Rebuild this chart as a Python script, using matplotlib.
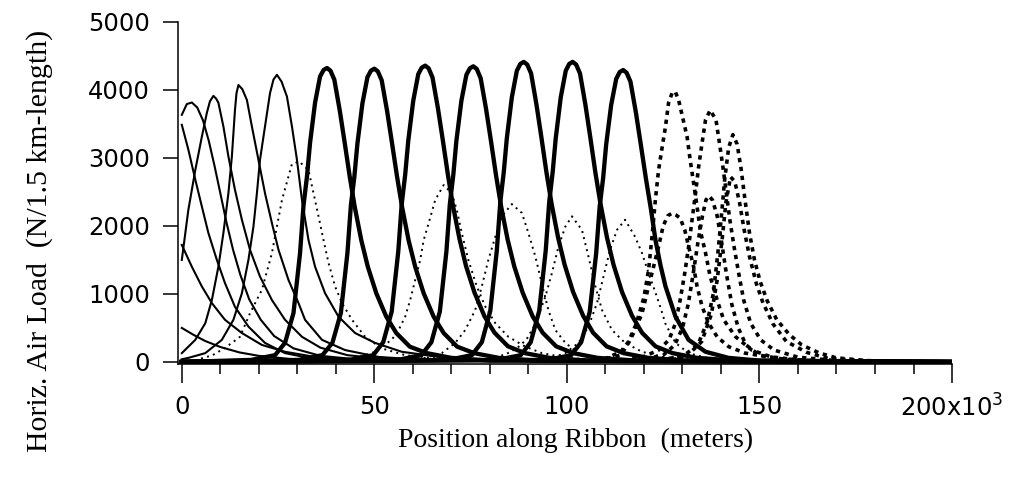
import matplotlib
matplotlib.use("Agg")
import matplotlib.pyplot as plt
from matplotlib.ticker import MultipleLocator, FixedLocator, FixedFormatter

# positions in units of 1000 m, loads in N per 1.5 km length

# thin solid curves
s1_x = [0, 1.3, 2.6, 4.0, 5.5, 7.0, 8.5, 10, 11.6, 13.3, 15.2, 17.5, 20.5, 24, 29, 36, 48]
s1_y = [3632, 3790, 3813, 3740, 3550, 3250, 2880, 2480, 2050, 1650, 1280, 920, 620, 380, 200, 90, 25]
s2_x = [0, 1.7, 3.5, 5.2, 6.9, 9.1, 11.2, 13.8, 17.3, 21.6, 26.8, 33, 42, 55]
s2_y = [3485, 3120, 2680, 2285, 1895, 1500, 1160, 810, 520, 280, 130, 60, 20, 5]
s3_x = [0, 1.7, 3.5, 5.2, 6.5, 7.3, 8.2, 8.9, 9.5, 10.8, 12.1, 13.8, 15.6, 17.7, 20.3, 23.4, 26.8,
        31.2, 36, 43, 55]
s3_y = [1500, 2235, 2820, 3310, 3660, 3830, 3910, 3870, 3810, 3460, 3020, 2530, 2090, 1650, 1255,
        910, 620, 370, 210, 100, 30]
s4_x = [0, 2.6, 5.2, 7.8, 11.2, 15.6, 20.8, 26.8, 35, 50]
s4_y = [1720, 1400, 1110, 865, 620, 425, 250, 150, 70, 20]
s5_x = [0, 3, 6, 10, 15, 20, 28, 40]
s5_y = [500, 400, 310, 220, 140, 90, 45, 15]
s6_x = [0, 3.5, 6.1, 7.8, 9.5, 10.8, 12.1, 13.0, 13.8, 14.2, 14.7, 15.7, 16.9, 18.2, 19.9, 21.6,
        23.4, 25.1, 27.7, 30.3, 32.0, 36.4, 42.4, 51, 65]
s6_y = [130, 325, 570, 910, 1400, 1895, 2480, 3020, 3700, 3950, 4070, 4010, 3850, 3460, 2970, 2480,
        2040, 1650, 1205, 865, 620, 325, 175, 75, 20]
s7_x = [0, 1.7, 6.1, 10.4, 13.4, 15.6, 17.3, 18.6, 19.5, 20.3, 21.6, 22.9, 23.8, 24.7, 25.9, 27.3,
        28.6, 29.9, 31.2, 32.9, 34.6, 37.2, 40.7, 45, 50.2, 57.1, 70]
s7_y = [40, 60, 130, 325, 620, 1010, 1500, 1990, 2480, 2970, 3460, 3950, 4150, 4220, 4120, 3900,
        3460, 2970, 2380, 1790, 1400, 1010, 665, 425, 280, 150, 50]

# thick solid curves
t1_x = [0, 18, 24.2, 26.8, 29.0, 30.7, 31.6, 32.5, 33.3, 34.6, 35.9, 36.8, 37.7, 38.6, 39.6, 41.0,
        42.3, 43.6, 44.9, 46.6, 48.3, 50.5, 53.1, 55.7, 59.2, 63.6, 70, 80, 200]
t1_y = [0, 30, 100, 280, 720, 1600, 2300, 2725, 3220, 3810, 4195, 4290, 4320, 4280, 4150, 3700,
        3220, 2725, 2280, 1790, 1400, 1010, 665, 425, 225, 130, 60, 20, 0]
t2_x = [0, 30.3, 36.5, 39.1, 41.3, 43.0, 43.9, 44.8, 45.6, 46.9, 48.2, 49.1, 50.0, 50.9, 51.9, 53.3,
        54.6, 55.9, 57.2, 58.9, 60.6, 62.8, 65.4, 68.0, 71.5, 75.9, 82.3, 92.3, 200]
t2_y = [0, 30, 100, 280, 720, 1600, 2300, 2720, 3210, 3800, 4185, 4280, 4310, 4270, 4140, 3690,
        3210, 2720, 2275, 1785, 1400, 1010, 665, 425, 225, 130, 60, 20, 0]
t3_x = [0, 43.5, 49.7, 52.3, 54.5, 56.2, 57.1, 58.0, 58.8, 60.1, 61.4, 62.3, 63.2, 64.1, 65.1, 66.5,
        67.8, 69.1, 70.4, 72.1, 73.8, 76.0, 78.6, 81.2, 84.7, 89.1, 95.5, 105.5, 200]
t3_y = [0, 30, 100, 290, 740, 1620, 2320, 2750, 3250, 3840, 4230, 4325, 4355, 4315, 4180, 3730,
        3250, 2750, 2300, 1810, 1410, 1020, 670, 430, 230, 130, 60, 20, 0]
t4_x = [0, 56.0, 62.2, 64.8, 67.0, 68.7, 69.6, 70.5, 71.3, 72.6, 73.9, 74.8, 75.7, 76.6, 77.6, 79.0,
        80.3, 81.6, 82.9, 84.6, 86.3, 88.5, 91.1, 93.7, 97.2, 101.6, 108.0, 118.0, 200]
t4_y = [0, 30, 100, 290, 740, 1620, 2320, 2750, 3250, 3840, 4220, 4315, 4345, 4305, 4170, 3720,
        3240, 2740, 2290, 1800, 1410, 1020, 670, 430, 230, 130, 60, 20, 0]
t5_x = [0, 69.1, 75.3, 77.9, 80.1, 81.8, 82.7, 83.6, 84.4, 85.7, 87.0, 87.9, 88.8, 89.7, 90.7, 92.1,
        93.4, 94.7, 96.0, 97.7, 99.4, 101.6, 104.2, 106.8, 110.3, 114.7, 121.1, 131.1, 200]
t5_y = [0, 30, 100, 290, 750, 1640, 2350, 2790, 3290, 3890, 4280, 4380, 4410, 4370, 4240, 3780,
        3290, 2780, 2330, 1830, 1430, 1030, 680, 430, 230, 130, 60, 20, 0]
t6_x = [0, 81.8, 88.0, 90.6, 92.8, 94.5, 95.4, 96.3, 97.1, 98.4, 99.7, 100.6, 101.5, 102.4, 103.4,
        104.8, 106.1, 107.4, 108.7, 110.4, 112.1, 114.3, 116.9, 119.5, 123.0, 127.4, 133.8, 143.8, 200]
t6_y = [0, 30, 100, 290, 750, 1640, 2350, 2790, 3290, 3890, 4280, 4380, 4410, 4370, 4240,
        3780, 3290, 2780, 2330, 1830, 1430, 1030, 680, 430, 230, 130, 60, 20, 0]
t7_x = [0, 94.9, 101.1, 103.7, 105.9, 107.6, 108.5, 109.4, 110.2, 111.5, 112.8, 113.7, 114.6, 115.5,
        116.5, 117.9, 119.2, 120.5, 121.8, 123.0, 124.3, 125.6, 128.2, 131.6, 136.0, 142.0, 150, 200]
t7_y = [0, 30, 100, 290, 730, 1600, 2280, 2700, 3200, 3780, 4160, 4260, 4290, 4250,
        4120, 3670, 3190, 2700, 2250, 1790, 1420, 1110, 665, 325, 150, 60, 20, 0]

# thin dotted curves
p1_x = [5, 8, 11, 13, 15.1, 17.7, 20.8, 23.4, 26.0, 28.6, 30.5, 32.9, 34.2, 35.5, 36.8, 38.1,
        39.8, 41.6, 44.2, 47.6, 51.9, 58, 70]
p1_y = [50, 100, 200, 280, 370, 715, 1060, 1600, 2380, 2910, 2945, 2820, 2480, 2140, 1790, 1455,
        1110, 865, 620, 370, 200, 100, 30]
p2_x = [40, 45, 49.4, 51.9, 54.5, 56.3, 58.0, 59.3, 60.6, 61.9, 62.8, 64.1, 65.8, 68.0, 70.1,
        71.4, 72.7, 74.4, 76.6, 78.8, 81.4, 84.8, 89.2, 93.5, 100, 110]
p2_y = [20, 60, 130, 225, 325, 470, 665, 910, 1205, 1500, 1790, 2040, 2380, 2600, 2480,
        2235, 1895, 1500, 1110, 815, 570, 370, 225, 130, 60, 20]
p3_x = [58, 63, 67.5, 71.0, 73.6, 76.2, 77.9, 79.6, 81.4, 83.1, 85.7, 88.3, 90.0, 91.8, 93.5,
        95.2, 97.0, 99.6, 103, 108, 118]
p3_y = [20, 60, 130, 280, 470, 765, 1110, 1500, 1840, 2140, 2320, 2190, 1895, 1550, 1150,
        760, 470, 280, 130, 60, 15]
p4_x = [75, 80, 84, 87, 89.5, 91.8, 94.4, 96.1, 97.8, 99.6, 101.3, 103.9, 105.6, 107.4, 109.1,
        111.7, 115.1, 119.5, 125, 135]
p4_y = [20, 50, 110, 200, 330, 560, 960, 1305, 1695, 1990, 2140, 1940, 1550, 1110, 765,
        470, 280, 150, 70, 20]
p5_x = [90, 96, 99.6, 103.0, 105.6, 107.8, 109.5, 111.2, 113.0, 115.1, 117.7, 119.5, 121.2, 122.9,
        124.3, 125.6, 128.2, 131.6, 137, 145]
p5_y = [20, 60, 130, 280, 520, 865, 1255, 1650, 1940, 2090, 1840, 1600, 1305, 1035,
        800, 560, 280, 130, 50, 15]

# thick dashed curves
d1_x = [105, 110, 114, 116, 118, 120, 121.2, 122.2, 123.0, 123.8, 124.7, 125.6, 126.4, 127.3, 128.1,
        129.0, 129.9, 131.2, 132.0, 132.9, 133.8, 134.6, 136.0, 137.2, 139.0, 140.7, 143.8, 148,
        153, 160, 170, 183]
d1_y = [15, 50, 150, 300, 560, 950, 1350, 1900, 2400, 2820, 3145, 3460, 3810, 3950, 3975,
        3850, 3630, 3310, 2970, 2630, 2285, 1940, 1600, 1255, 910, 620, 370, 175,
        75, 30, 10, 0]
d2_x = [108, 114, 116, 117.7, 119.5, 121.2, 122.5, 123.8, 125.0, 126.2, 127.3, 128.3, 129.4, 130.6,
        131.6, 132.9, 133.8, 135.1, 136.8, 139.0, 142.0, 146.3, 155, 165, 180]
d2_y = [20, 100, 280, 470, 715, 1110, 1400, 1695, 2000, 2150, 2185, 2160, 2115, 1940,
        1695, 1400, 1110, 815, 570, 370, 225, 130, 50, 15, 0]
d3_x = [110, 115, 120, 123.8, 126.5, 128.2, 129.4, 130.6, 131.6, 132.5, 133.4, 134.2, 135.1, 136.0,
        137.2, 138.7, 139.6, 140.5, 141.4, 142.3, 143.4, 144.6, 145.9, 147.7, 150.3, 153.8, 160,
        170, 182]
d3_y = [10, 25, 80, 175, 325, 570, 910, 1305, 1695, 2090, 2480, 2870, 3220, 3560,
        3700, 3560, 3220, 2870, 2480, 2090, 1695, 1305, 910, 570, 325, 175, 70,
        20, 0]
d4_x = [118, 125, 128, 130, 131.5, 132.8, 134.0, 135.2, 136.1, 136.9, 137.8, 139.0, 140.2, 141.4,
        142.8, 144.5, 146.5, 150, 157, 168]
d4_y = [20, 100, 250, 500, 850, 1300, 1750, 2150, 2380, 2440, 2380, 2150, 1750, 1300,
        850, 500, 250, 100, 30, 5]
d5_x = [122, 130, 134, 136.5, 138.0, 139.2, 140.2, 141.0, 142.0, 143.1, 144.2, 145.2, 146.2, 147.4,
        148.7, 150.2, 152.0, 154.5, 157.8, 161.0, 165.6, 170, 178, 190]
d5_y = [20, 80, 250, 600, 1000, 1600, 2200, 2700, 3150, 3340, 3200, 2850, 2400, 1900,
        1500, 1180, 900, 620, 400, 250, 130, 60, 20, 0]
d6_x = [124, 131, 135, 137.5, 139.0, 140.3, 141.3, 142.5, 143.6, 144.8, 146.0, 147.4, 149.2, 150.9,
        153.5, 157.0, 162.3, 168, 180]
d6_y = [20, 80, 300, 700, 1200, 1800, 2350, 2720, 2650, 2350, 1950, 1550, 1150, 870,
        560, 300, 140, 50, 10]

thin_curves = [(s1_x, s1_y), (s2_x, s2_y), (s3_x, s3_y), (s4_x, s4_y),
               (s5_x, s5_y), (s6_x, s6_y), (s7_x, s7_y)]
thick_curves = [(t1_x, t1_y), (t2_x, t2_y), (t3_x, t3_y), (t4_x, t4_y),
                (t5_x, t5_y), (t6_x, t6_y), (t7_x, t7_y)]
dotted_curves = [(p1_x, p1_y), (p2_x, p2_y), (p3_x, p3_y), (p4_x, p4_y), (p5_x, p5_y)]
dashed_curves = [(d1_x, d1_y), (d2_x, d2_y), (d3_x, d3_y), (d4_x, d4_y),
                 (d5_x, d5_y), (d6_x, d6_y)]

x_major = [0, 50, 100, 150, 200]
x_labels = ['0', '50', '100', '150', r'200x10$^{3}$']
y_major = [0, 1000, 2000, 3000, 4000, 5000]

fig = plt.figure(figsize=(10.1, 4.86), dpi=100)
ax = fig.add_axes([0.1762, 0.251, 0.7664, 0.7043])

for xs, ys in dotted_curves:
    ax.plot(xs, ys, color='black', lw=1.4, linestyle=(0, (1, 2.2)))
for xs, ys in dashed_curves:
    ax.plot(xs, ys, color='black', lw=2.6, linestyle=(0, (1.2, 1.3)), dash_capstyle='butt')
for xs, ys in thin_curves:
    ax.plot(xs, ys, color='black', lw=1.5)
for xs, ys in thick_curves:
    ax.plot(xs, ys, color='black', lw=3.1)

ax.set_xlim(-1.0, 200)
ax.set_ylim(-30, 5000)

for side in ['top', 'right']:
    ax.spines[side].set_visible(False)
for side in ['left', 'bottom']:
    ax.spines[side].set_linewidth(1.1)

ax.xaxis.set_major_locator(FixedLocator(x_major))
ax.xaxis.set_major_formatter(FixedFormatter(x_labels))
ax.xaxis.set_minor_locator(MultipleLocator(10))
ax.yaxis.set_major_locator(FixedLocator(y_major))
ax.tick_params(axis='x', which='major', direction='out', length=14, width=1.1, pad=8)
ax.tick_params(axis='x', which='minor', direction='out', length=7, width=1.1)
ax.tick_params(axis='y', which='major', direction='out', length=11, width=1.1, pad=9)
for lab in ax.get_xticklabels() + ax.get_yticklabels():
    lab.set_fontfamily('DejaVu Sans')
    lab.set_fontsize(17.5)

fig.text(0.0396, 0.505, 'Horiz. Air Load  (N/1.5 km-length)', rotation=90,
         ha='center', va='center', family='Liberation Serif', fontsize=21.5)
fig.text(0.570, 0.0947, 'Position along Ribbon  (meters)',
         ha='center', va='center', family='Liberation Serif', fontsize=20)

fig.savefig('out.png', dpi=100)
